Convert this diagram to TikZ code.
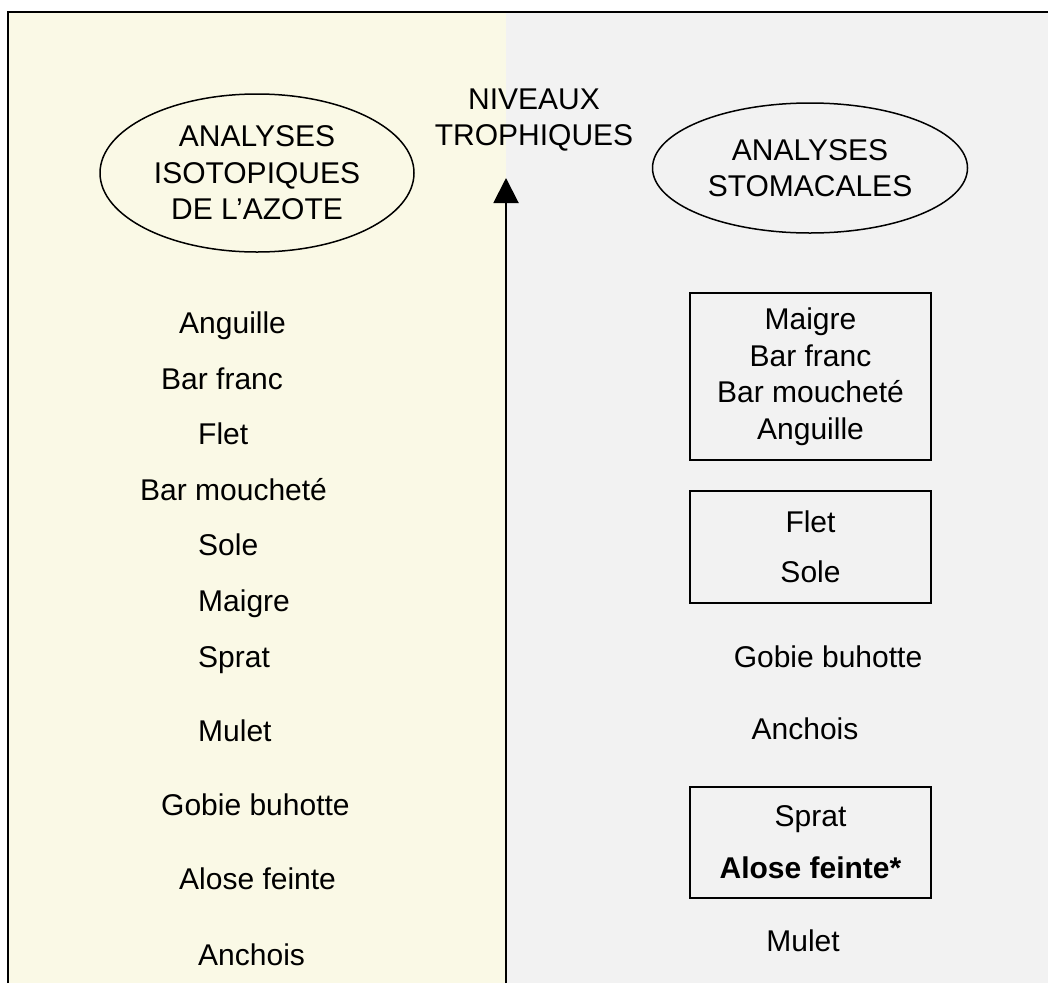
\documentclass[tikz,border=0pt]{standalone}
\usepackage{fontspec}
\setmainfont{Liberation Sans}
\usetikzlibrary{arrows.meta,shapes.geometric}
\definecolor{cream}{RGB}{250,249,230}
\definecolor{panelgray}{RGB}{242,242,242}
\begin{document}
\begin{tikzpicture}[x=1pt,y=-1pt,
  every node/.style={font=\fontsize{30}{36.5}\selectfont, inner sep=0pt},
  species/.style={anchor=base west},
  rspecies/.style={anchor=base},
  method/.style={ellipse, draw, line width=1.5pt, align=center, inner sep=0pt},
  groupbox/.style={draw, line width=1.5pt, align=center, minimum width=241pt},
  axis/.style={line width=2pt, -{Triangle[width=25pt,length=25pt]}}
]
\useasboundingbox (0,0) rectangle (1048,983);
% two coloured panels and the frame
\fill[cream] (8,12) rectangle (506,983);
\fill[panelgray] (506,12) rectangle (1048,983);
\draw[line width=2pt] (8,983) -- (8,12) -- (1048,12);

% headings
\node[method, minimum width=314pt, minimum height=158pt] (iso) at (257,173)
  {ANALYSES\\ISOTOPIQUES\\DE L’AZOTE};
\node[method, minimum width=315pt, minimum height=130pt] (stom) at (810,168)
  {ANALYSES\\STOMACALES};
\node[align=center] (niv) at (534,120) {NIVEAUX\\TROPHIQUES};

% trophic level axis
\coordinate (abot) at (506,983);
\coordinate (atop) at (506,178);
\draw[axis] (abot) -- (atop);

% nitrogen isotope ranking
\node[species] (l1) at (179,333) {Anguille};
\node[species] (l2) at (161,389) {Bar franc};
\node[species] (l3) at (198,444) {Flet};
\node[species] (l4) at (140,500) {Bar moucheté};
\node[species] (l5) at (198,555) {Sole};
\node[species] (l6) at (198,611) {Maigre};
\node[species] (l7) at (198,667) {Sprat};
\node[species] (l8) at (198,741) {Mulet};
\node[species] (l9) at (161,815) {Gobie buhotte};
\node[species] (l10) at (179,889) {Alose feinte};
\node[species] (l11) at (198,965) {Anchois};

% stomach content ranking
\node[groupbox, minimum height=167pt] (g1) at (810.5,376.5)
  {Maigre\\Bar franc\\Bar moucheté\\Anguille};
\node[groupbox, minimum height=112pt] (g2) at (810.5,547)
  {Flet\\[13.5pt]Sole};
\node[rspecies] (r1) at (828,667) {Gobie buhotte};
\node[rspecies] (r2) at (805,739) {Anchois};
\node[groupbox, minimum height=111pt] (g3) at (810.5,842.5)
  {Sprat\\[15.5pt]\textbf{Alose feinte*}};
\node[rspecies] (r3) at (803,951) {Mulet};
\end{tikzpicture}
\end{document}
